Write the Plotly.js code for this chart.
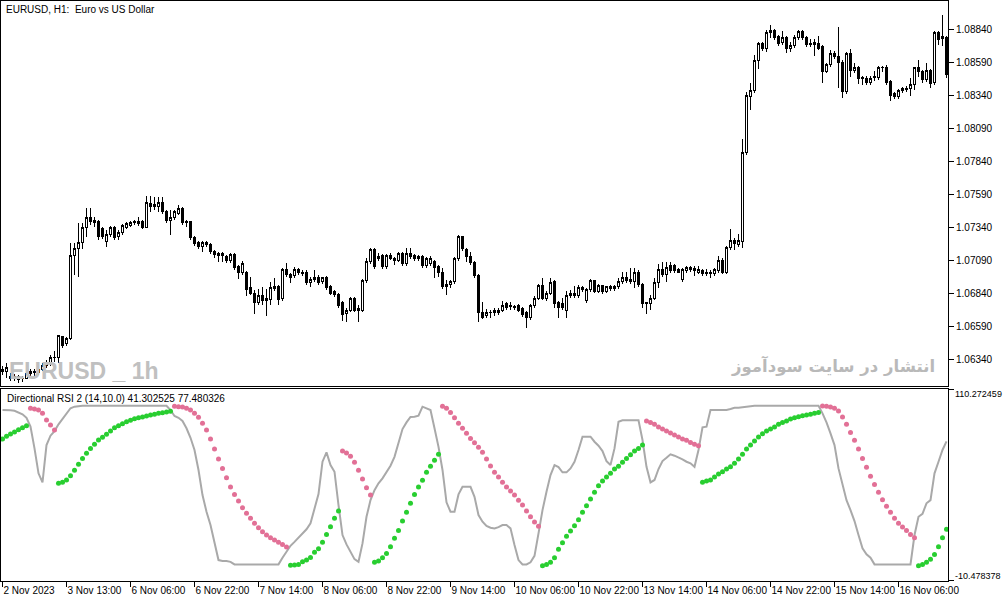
<!DOCTYPE html>
<html>
<head>
<meta charset="utf-8">
<script src="https://cdn.plot.ly/plotly-3.0.1.min.js"></script>
<style>
  body { margin: 0; background: #fff; }
  #chart { width: 1003px; height: 603px; }
  /* sharp MT5-like candles */
  #chart .boxlayer path { shape-rendering: crispEdges; }
</style>
</head>
<body>
<div id="chart"></div>
<script>
/* EURUSD H1 candles, 2 Nov - 16 Nov 2023 */
const openP = [
  1.06242,1.06249,1.06211,1.06196,1.06204,1.06189,1.06196,1.06227,1.06242,1.06234,
  1.06264,1.06287,1.06310,1.06348,1.06355,1.06507,1.06454,1.06499,1.07121,1.07174,
  1.07219,1.07340,1.07409,1.07386,1.07378,1.07325,1.07227,1.07280,1.07333,1.07265,
  1.07295,1.07340,1.07355,1.07371,1.07363,1.07378,1.07340,1.07515,1.07492,1.07499,
  1.07522,1.07454,1.07386,1.07409,1.07446,1.07477,1.07378,1.07378,1.07257,1.07219,
  1.07189,1.07219,1.07204,1.07151,1.07136,1.07121,1.07113,1.07083,1.07128,1.07037,
  1.06992,1.06992,1.06878,1.06840,1.06765,1.06818,1.06795,1.06787,1.06871,1.06886,
  1.06795,1.07015,1.06977,1.06969,1.07015,1.06999,1.06992,1.06916,1.06939,1.06961,
  1.06924,1.06954,1.06886,1.06848,1.06825,1.06765,1.06681,1.06711,1.06795,1.06719,
  1.06711,1.06931,1.07075,1.07166,1.07098,1.07121,1.07037,1.07121,1.07105,1.07090,
  1.07136,1.07060,1.07136,1.07121,1.07098,1.07113,1.07045,1.07060,1.07075,1.07037,
  1.06999,1.06886,1.06901,1.06924,1.07098,1.07265,1.07166,1.07113,1.07068,1.06969,
  1.06696,1.06666,1.06696,1.06689,1.06689,1.06711,1.06757,1.06734,1.06727,1.06742,
  1.06719,1.06689,1.06651,1.06742,1.06802,1.06894,1.06795,1.06840,1.06924,1.06765,
  1.06757,1.06711,1.06818,1.06840,1.06818,1.06878,1.06780,1.06863,1.06931,1.06855,
  1.06894,1.06848,1.06886,1.06871,1.06886,1.06924,1.06954,1.06939,1.06924,1.06999,
  1.06901,1.06757,1.06757,1.06802,1.06916,1.07015,1.06977,1.07045,1.07045,1.07015,
  1.06939,1.07007,1.07030,1.07022,1.06999,1.07007,1.06999,1.06995,1.06984,1.07007,
  1.07090,1.06999,1.07181,1.07234,1.07204,1.07227,1.07901,1.08325,1.08371,1.08605,
  1.08727,1.08689,1.08810,1.08825,1.08780,1.08734,1.08772,1.08689,1.08712,1.08772,
  1.08818,1.08772,1.08719,1.08734,1.08727,1.08704,1.08515,1.08568,1.08658,1.08628,
  1.08590,1.08363,1.08651,1.08522,1.08545,1.08462,1.08462,1.08431,1.08477,1.08469,
  1.08552,1.08552,1.08439,1.08348,1.08325,1.08371,1.08378,1.08393,1.08416,1.08545,
  1.08515,1.08454,1.08522,1.08431,1.08810,1.08765,1.08772
];
const highP = [
  1.06287,1.06310,1.06234,1.06227,1.06219,1.06211,1.06242,1.06264,1.06264,1.06280,
  1.06310,1.06333,1.06371,1.06401,1.06522,1.06515,1.06507,1.07219,1.07219,1.07371,
  1.07371,1.07484,1.07484,1.07416,1.07393,1.07340,1.07318,1.07348,1.07348,1.07318,
  1.07363,1.07378,1.07386,1.07393,1.07416,1.07393,1.07575,1.07575,1.07568,1.07568,
  1.07568,1.07469,1.07469,1.07469,1.07507,1.07492,1.07393,1.07386,1.07272,1.07234,
  1.07234,1.07234,1.07219,1.07166,1.07151,1.07151,1.07128,1.07143,1.07143,1.07052,
  1.07083,1.07007,1.06961,1.06863,1.06871,1.06886,1.06871,1.06924,1.06954,1.06901,
  1.07030,1.07068,1.06992,1.07037,1.07030,1.07015,1.07015,1.06961,1.07015,1.06977,
  1.06961,1.06969,1.06901,1.06863,1.06840,1.06780,1.06727,1.06810,1.06810,1.06749,
  1.06946,1.07105,1.07181,1.07181,1.07143,1.07136,1.07136,1.07143,1.07113,1.07151,
  1.07151,1.07181,1.07181,1.07136,1.07128,1.07128,1.07113,1.07121,1.07090,1.07052,
  1.07030,1.06939,1.06939,1.07113,1.07280,1.07272,1.07181,1.07151,1.07083,1.06984,
  1.06772,1.06719,1.06711,1.06727,1.06727,1.06780,1.06772,1.06772,1.06749,1.06757,
  1.06734,1.06704,1.06757,1.06818,1.06908,1.06954,1.06855,1.06954,1.06939,1.06780,
  1.06802,1.06855,1.06863,1.06894,1.06901,1.06894,1.06878,1.06946,1.06931,1.06908,
  1.06901,1.06894,1.06901,1.06901,1.06954,1.06999,1.06999,1.07030,1.07030,1.07015,
  1.06916,1.06772,1.06825,1.06954,1.07060,1.07075,1.07075,1.07075,1.07060,1.07030,
  1.07030,1.07045,1.07045,1.07045,1.07045,1.07022,1.07022,1.07015,1.07030,1.07121,
  1.07105,1.07196,1.07325,1.07257,1.07287,1.08007,1.08363,1.08431,1.08643,1.08742,
  1.08742,1.08833,1.08871,1.08840,1.08795,1.08825,1.08787,1.08742,1.08795,1.08833,
  1.08833,1.08787,1.08765,1.08765,1.08787,1.08719,1.08583,1.08681,1.08674,1.08855,
  1.08605,1.08666,1.08689,1.08583,1.08560,1.08484,1.08484,1.08484,1.08522,1.08560,
  1.08560,1.08568,1.08454,1.08363,1.08386,1.08401,1.08409,1.08469,1.08552,1.08605,
  1.08530,1.08583,1.08537,1.08825,1.08825,1.08946,1.08787
];
const lowP = [
  1.06219,1.06196,1.06174,1.06174,1.06158,1.06166,1.06189,1.06211,1.06211,1.06219,
  1.06249,1.06272,1.06287,1.06317,1.06310,1.06424,1.06439,1.06484,1.06977,1.06961,
  1.07174,1.07265,1.07355,1.07340,1.07242,1.07249,1.07189,1.07265,1.07242,1.07242,
  1.07280,1.07325,1.07340,1.07355,1.07348,1.07325,1.07333,1.07454,1.07469,1.07454,
  1.07439,1.07371,1.07280,1.07393,1.07431,1.07355,1.07340,1.07242,1.07196,1.07174,
  1.07151,1.07189,1.07136,1.07105,1.07075,1.07075,1.07068,1.07068,1.07015,1.06946,
  1.06977,1.06818,1.06825,1.06681,1.06749,1.06749,1.06666,1.06749,1.06855,1.06749,
  1.06780,1.06961,1.06916,1.06954,1.06977,1.06969,1.06901,1.06886,1.06924,1.06901,
  1.06908,1.06863,1.06825,1.06810,1.06727,1.06628,1.06621,1.06696,1.06696,1.06621,
  1.06696,1.06916,1.07060,1.07022,1.07083,1.07022,1.07022,1.07090,1.07052,1.07075,
  1.07045,1.07045,1.07098,1.07083,1.07083,1.07030,1.07030,1.07045,1.06954,1.06961,
  1.06871,1.06825,1.06878,1.06908,1.07083,1.07158,1.07075,1.07052,1.06954,1.06621,
  1.06643,1.06651,1.06651,1.06666,1.06674,1.06696,1.06711,1.06711,1.06711,1.06696,
  1.06658,1.06575,1.06636,1.06727,1.06787,1.06787,1.06780,1.06825,1.06727,1.06651,
  1.06711,1.06651,1.06802,1.06802,1.06802,1.06848,1.06765,1.06848,1.06840,1.06840,
  1.06833,1.06840,1.06855,1.06855,1.06871,1.06908,1.06916,1.06908,1.06878,1.06886,
  1.06727,1.06681,1.06711,1.06787,1.06878,1.06961,1.06924,1.06992,1.06992,1.06992,
  1.06924,1.06992,1.06999,1.06969,1.06984,1.06969,1.06969,1.06954,1.06969,1.06992,
  1.06984,1.06984,1.07166,1.07166,1.07189,1.07181,1.07886,1.08227,1.08355,1.08537,
  1.08674,1.08666,1.08772,1.08757,1.08712,1.08719,1.08658,1.08666,1.08696,1.08757,
  1.08757,1.08704,1.08704,1.08636,1.08681,1.08431,1.08507,1.08552,1.08613,1.08393,
  1.08318,1.08348,1.08477,1.08507,1.08424,1.08416,1.08416,1.08416,1.08446,1.08454,
  1.08515,1.08416,1.08295,1.08310,1.08310,1.08355,1.08363,1.08333,1.08378,1.08477,
  1.08431,1.08439,1.08393,1.08416,1.08719,1.08712,1.08469
];
const closeP = [
  1.06257,1.06272,1.06196,1.06204,1.06181,1.06196,1.06227,1.06242,1.06234,1.06264,
  1.06287,1.06317,1.06348,1.06355,1.06515,1.06446,1.06499,1.07121,1.07174,1.07219,
  1.07340,1.07409,1.07378,1.07371,1.07265,1.07265,1.07280,1.07333,1.07257,1.07302,
  1.07348,1.07363,1.07371,1.07378,1.07378,1.07340,1.07522,1.07492,1.07507,1.07522,
  1.07454,1.07393,1.07409,1.07454,1.07477,1.07371,1.07371,1.07257,1.07212,1.07189,
  1.07219,1.07204,1.07151,1.07128,1.07121,1.07136,1.07083,1.07128,1.07030,1.06992,
  1.07060,1.06863,1.06840,1.06765,1.06818,1.06780,1.06780,1.06878,1.06886,1.06787,
  1.07015,1.06977,1.06961,1.07015,1.06992,1.06984,1.06916,1.06946,1.06961,1.06916,
  1.06954,1.06878,1.06840,1.06825,1.06742,1.06674,1.06711,1.06795,1.06711,1.06711,
  1.06931,1.07075,1.07166,1.07037,1.07113,1.07037,1.07121,1.07105,1.07083,1.07136,
  1.07060,1.07143,1.07113,1.07098,1.07113,1.07045,1.07098,1.07105,1.07030,1.06999,
  1.06886,1.06908,1.06924,1.07098,1.07265,1.07174,1.07113,1.07068,1.06969,1.06696,
  1.06658,1.06696,1.06689,1.06704,1.06711,1.06749,1.06727,1.06749,1.06734,1.06711,
  1.06674,1.06651,1.06742,1.06802,1.06894,1.06802,1.06840,1.06916,1.06757,1.06727,
  1.06727,1.06818,1.06840,1.06818,1.06878,1.06863,1.06863,1.06931,1.06855,1.06894,
  1.06848,1.06886,1.06871,1.06886,1.06924,1.06954,1.06931,1.06924,1.06999,1.06901,
  1.06757,1.06765,1.06795,1.06916,1.07015,1.06977,1.07030,1.07007,1.07007,1.06999,
  1.07015,1.07030,1.07015,1.07007,1.07015,1.06984,1.06984,1.06989,1.07015,1.07083,
  1.06999,1.07181,1.07234,1.07212,1.07234,1.07901,1.08340,1.08371,1.08605,1.08727,
  1.08689,1.08810,1.08825,1.08772,1.08727,1.08772,1.08696,1.08712,1.08772,1.08818,
  1.08772,1.08719,1.08727,1.08719,1.08696,1.08515,1.08568,1.08658,1.08628,1.08590,
  1.08363,1.08651,1.08522,1.08545,1.08462,1.08469,1.08431,1.08462,1.08469,1.08545,
  1.08545,1.08431,1.08340,1.08325,1.08371,1.08386,1.08393,1.08416,1.08545,1.08515,
  1.08454,1.08522,1.08424,1.08810,1.08757,1.08780,1.08499
];

/* Directional RSI 2 (14,10.0) */
// grey line
const rsiLine = [
  97.3,97.3,97.1,96.8,95.8,94.6,92.4,86.8,73.1,57.4,51.7,75.2,81.1,84.0,88.3,91.6,95.2,98.4,99.4,99.8,
  100,100,100,100,100,100,100,100,100,100,100,100,100,100,100,100,100,100,100,100,100,100,
  97.3,93.5,92.4,90.4,85.8,79.8,72.1,59.5,43.7,33.2,24.8,13.3,2.7,2.1,2.1,1.6,
  0,0,0,0,0,0,0,0,0,0,0,0,
  4.2,7.9,11.7,14.2,16.8,19.5,22.1,25.9,35.3,44.3,64.7,70.6,62.6,58.4,37.4,18.5,12.6,7.9,3.3,1.6,
  13.2,30.0,40.5,46.8,51.1,54.2,58.0,62.2,67.8,76.3,85.3,89.5,92.9,93.1,93.7,
  99.4,98.4,97.3,85.8,74.1,59.5,39.1,33.2,33.2,44.1,48.9,48.9,48.9,42.6,31.1,26.9,24.3,23.1,22.7,23.5,
  24.8,24.8,22.7,12.2,2.7,
  0,0,
  1.3,5.4,19.5,34.2,45.8,56.3,62.6,61.3,58.0,58.0,60.5,64.7,72.1,80.5,80.5,80.5,77.3,74.8,71.4,65.1,
  62.6,73.1,89.9,90.8,90.8,90.8,90.8,90.8,
  78.4,61.5,51.7,53.2,60.1,65.1,67.2,69.4,68.5,67.5,66.2,64.7,63.7,61.5,72.1,86.4,86.8,97.3,97.3,97.3,
  97.3,97.3,97.9,98.7,98.7,99.0,99.4,
  100,100,100,100,100,100,100,100,100,100,100,100,100,100,100,100,100,100,
  95.2,89.5,82.6,75.2,60.5,49.6,40.5,34.2,27.3,18.5,10.1,6.3,4.2,
  0,0,0,0,0,0,0,0,0,0,
  18.5,30.0,31.9,38.5,40.5,57.4,64.7,72.1,77.5
];
// dotted signal, one value per bar
const rsiDots = [
  79.0,80.7,82.2,83.4,84.9,86.1,87.4,
  98.4,97.9,97.3,95.2,91.0,87.8,84.7,
  51.1,51.7,53.2,55.9,59.3,63.1,66.8,70.0,73.1,75.7,78.4,80.1,82.0,84.0,86.1,87.4,88.7,89.9,90.8,91.8,
  92.4,92.9,93.5,94.1,94.6,95.2,95.6,96.0,96.5,
  99.6,99.4,99.2,98.4,97.3,95.2,92.7,88.9,84.7,79.0,72.7,66.4,60.5,54.6,48.7,44.1,39.9,35.7,32.2,29.0,
  25.9,23.1,20.6,18.5,16.8,15.3,13.9,12.6,10.9,
  -0.6,-0.4,0,1.6,2.7,4.4,7.6,9.8,13.9,18.9,23.7,29.0,33.6,
  71.4,70.2,68.1,64.3,59.3,53.8,48.3,43.7,
  1.3,2.1,4.2,6.9,11.1,16.4,21.4,27.3,32.8,38.5,44.1,48.7,53.0,58.0,61.8,65.6,69.4,
  99.6,98.4,95.8,92.4,88.9,85.8,82.6,79.4,76.7,73.8,70.6,66.4,62.0,58.0,55.0,51.7,48.7,46.2,43.7,40.5,
  37.4,33.6,30.0,26.7,24.0,
  -0.9,0,1.3,4.2,9.5,13.6,17.7,21.0,24.3,28.1,32.8,36.9,41.2,45.4,49.6,52.5,55.0,57.4,60.1,61.8,
  64.3,66.8,69.1,71.4,73.1,75.2,
  90.4,89.5,88.3,86.6,85.3,84.0,82.8,81.5,80.3,79.0,78.2,76.9,75.7,74.8,
  51.7,52.5,53.2,55.0,56.9,58.4,60.1,61.5,63.7,66.4,69.4,72.7,75.2,77.7,80.3,82.3,84.0,85.3,86.6,88.3,
  89.5,90.4,91.6,92.4,93.1,93.7,94.1,94.6,95.2,95.8,
  99.8,99.6,99.2,98.4,96.7,92.9,88.3,83.2,78.2,72.7,66.8,61.3,55.5,50.4,45.4,40.7,36.6,32.8,29.0,26.0,
  23.5,21.4,18.9,16.8,
  -0.9,0,1.3,3.3,6.3,11.1,16.8,22.1
];
// first bar of each dot run and its direction
const dotRuns = [
  [0, 'up'], [7, 'down'], [14, 'up'], [43, 'down'], [72, 'up'], [85, 'down'], [93, 'up'],
  [110, 'down'], [135, 'up'], [161, 'down'], [175, 'up'], [205, 'down'], [229, 'up']
];

// axis labels
const timeTickBars = [0, 16, 32, 48, 64, 80, 96, 112, 128, 144, 160, 176, 192, 208, 224];
const timeTickText = ['2 Nov 2023', '3 Nov 13:00', '6 Nov 06:00', '6 Nov 22:00', '7 Nov 14:00',
  '8 Nov 06:00', '8 Nov 22:00', '9 Nov 14:00', '10 Nov 06:00', '10 Nov 22:00', '13 Nov 14:00',
  '14 Nov 06:00', '14 Nov 22:00', '15 Nov 14:00', '16 Nov 06:00'];
const priceTicks = [1.06340, 1.06590, 1.06840, 1.07090, 1.07340, 1.07590, 1.07840,
  1.08090, 1.08340, 1.08590, 1.08840];
const rsiMax = 110.272459;
const rsiMin = -10.478378;

// bar index is the x value
const bars = closeP.map((_, i) => i);

// split the dots into the rising (green) and falling (pink) buffers
let greenDots = [], pinkDots = [];
let run = 0;
for (let i = 0; i < rsiDots.length; i++) {
  if (run + 1 < dotRuns.length && i >= dotRuns[run + 1][0]) run++;
  if (dotRuns[run][1] == 'up') {
    greenDots.push(rsiDots[i]);
    pinkDots.push(null);
  } else {
    greenDots.push(null);
    pinkDots.push(rsiDots[i]);
  }
}

const FONT = 'Liberation Sans, Arial, sans-serif';

const candles = {
  type: 'candlestick',
  x: bars,
  open: openP,
  high: highP,
  low: lowP,
  close: closeP,
  xaxis: 'x2',
  yaxis: 'y',
  whiskerwidth: 0,
  increasing: {line: {color: '#000000', width: 1}, fillcolor: '#ffffff'},
  decreasing: {line: {color: '#000000', width: 1}, fillcolor: '#000000'},
  hoverinfo: 'skip'
};

const greyLine = {
  type: 'scatter',
  mode: 'lines',
  x: bars,
  y: rsiLine,
  xaxis: 'x',
  yaxis: 'y2',
  line: {color: '#a9a9a9', width: 2},
  hoverinfo: 'skip'
};

const pinkTrace = {
  type: 'scatter',
  mode: 'markers',
  x: bars,
  y: pinkDots,
  xaxis: 'x',
  yaxis: 'y2',
  marker: {color: 'rgb(226,112,150)', size: 5},
  hoverinfo: 'skip'
};

const greenTrace = {
  type: 'scatter',
  mode: 'markers',
  x: bars,
  y: greenDots,
  xaxis: 'x',
  yaxis: 'y2',
  marker: {color: 'rgb(40,206,48)', size: 5},
  hoverinfo: 'skip'
};

// 4 px per bar, bar centres on half pixels so the 2 px bodies stay crisp
const xRange = [-0.375, 236.375];

const layout = {
  width: 1003,
  height: 603,
  margin: {l: 1, r: 55, t: 1, b: 22},
  paper_bgcolor: '#ffffff',
  plot_bgcolor: '#ffffff',
  showlegend: false,
  hovermode: false,
  boxgap: 0.5,
  boxgroupgap: 0,
  font: {family: FONT, size: 10, color: '#000000'},
  // bottom panel axis (time labels)
  xaxis: {
    anchor: 'y2',
    range: xRange,
    showgrid: false,
    zeroline: false,
    showline: true,
    mirror: true,
    linecolor: '#000000',
    linewidth: 1,
    tickmode: 'array',
    tickvals: timeTickBars,
    ticktext: timeTickText,
    tickangle: 0,
    ticks: 'outside',
    ticklen: 5,
    tickcolor: '#000000',
    ticklabelposition: 'outside right',
    tickfont: {family: FONT, size: 10, color: '#000000'},
    rangeslider: {visible: false},
    fixedrange: true
  },
  // top panel axis, shares the bars
  xaxis2: {
    anchor: 'y',
    matches: 'x',
    range: xRange,
    showgrid: false,
    zeroline: false,
    showline: true,
    mirror: true,
    linecolor: '#000000',
    linewidth: 1,
    showticklabels: false,
    ticks: '',
    rangeslider: {visible: false},
    fixedrange: true
  },
  yaxis: {
    domain: [0.3362, 1],
    anchor: 'x2',
    side: 'right',
    range: [1.061354, 1.090521],
    showgrid: false,
    zeroline: false,
    showline: true,
    mirror: true,
    linecolor: '#000000',
    linewidth: 1,
    tickmode: 'array',
    tickvals: priceTicks,
    ticktext: priceTicks.map(v => v.toFixed(5)),
    ticks: 'outside',
    ticklen: 5,
    tickcolor: '#000000',
    tickfont: {family: FONT, size: 10, color: '#000000'},
    fixedrange: true
  },
  yaxis2: {
    domain: [0, 0.3303],
    anchor: 'x',
    side: 'right',
    range: [rsiMin, rsiMax],
    showgrid: false,
    zeroline: false,
    showline: true,
    mirror: true,
    linecolor: '#000000',
    linewidth: 1,
    tickmode: 'array',
    tickvals: [rsiMin, rsiMax],
    showticklabels: false,
    ticks: 'outside',
    ticklen: 5,
    tickcolor: '#000000',
    fixedrange: true
  },
  annotations: [
    {
      text: 'EURUSD, H1:  Euro vs US Dollar',
      xref: 'paper', yref: 'paper', x: 0.003, y: 1,
      xanchor: 'left', yanchor: 'top', yshift: -1, showarrow: false,
      font: {family: FONT, size: 10, color: '#000000'}
    },
    {
      text: 'Directional RSI 2 (14,10.0) 41.302525 77.480326',
      xref: 'paper', yref: 'paper', x: 0.004, y: 0.3303,
      xanchor: 'left', yanchor: 'top', yshift: -2, showarrow: false,
      font: {family: FONT, size: 10, color: '#000000'}
    },
    {
      text: '<b>EURUSD _ 1h</b>',
      xref: 'paper', yref: 'paper', x: 0.006, y: 0.3365,
      xanchor: 'left', yanchor: 'bottom', showarrow: false,
      font: {family: FONT, size: 23, color: '#c0c0c0'}
    },
    {
      text: '<b>انتشار در سایت سودآموز</b>',
      xref: 'paper', yref: 'paper', x: 0.988, y: 0.3707,
      xanchor: 'right', yanchor: 'middle', showarrow: false,
      font: {family: 'DejaVu Sans, sans-serif', size: 16.5, color: '#b9b9b9'}
    },
    {
      text: rsiMax.toFixed(6),
      xref: 'paper', yref: 'y2', x: 1, y: rsiMax,
      xanchor: 'left', yanchor: 'middle', xshift: 5, yshift: -5, showarrow: false,
      font: {family: FONT, size: 9, color: '#000000'}
    },
    {
      text: rsiMin.toFixed(6),
      xref: 'paper', yref: 'y2', x: 1, y: rsiMin,
      xanchor: 'left', yanchor: 'middle', xshift: 5, yshift: 5, showarrow: false,
      font: {family: FONT, size: 9, color: '#000000'}
    }
  ]
};

Plotly.newPlot('chart', {
  data: [candles, greyLine, pinkTrace, greenTrace],
  layout: layout,
  config: {staticPlot: true, displayModeBar: false}
});
</script>
</body>
</html>
